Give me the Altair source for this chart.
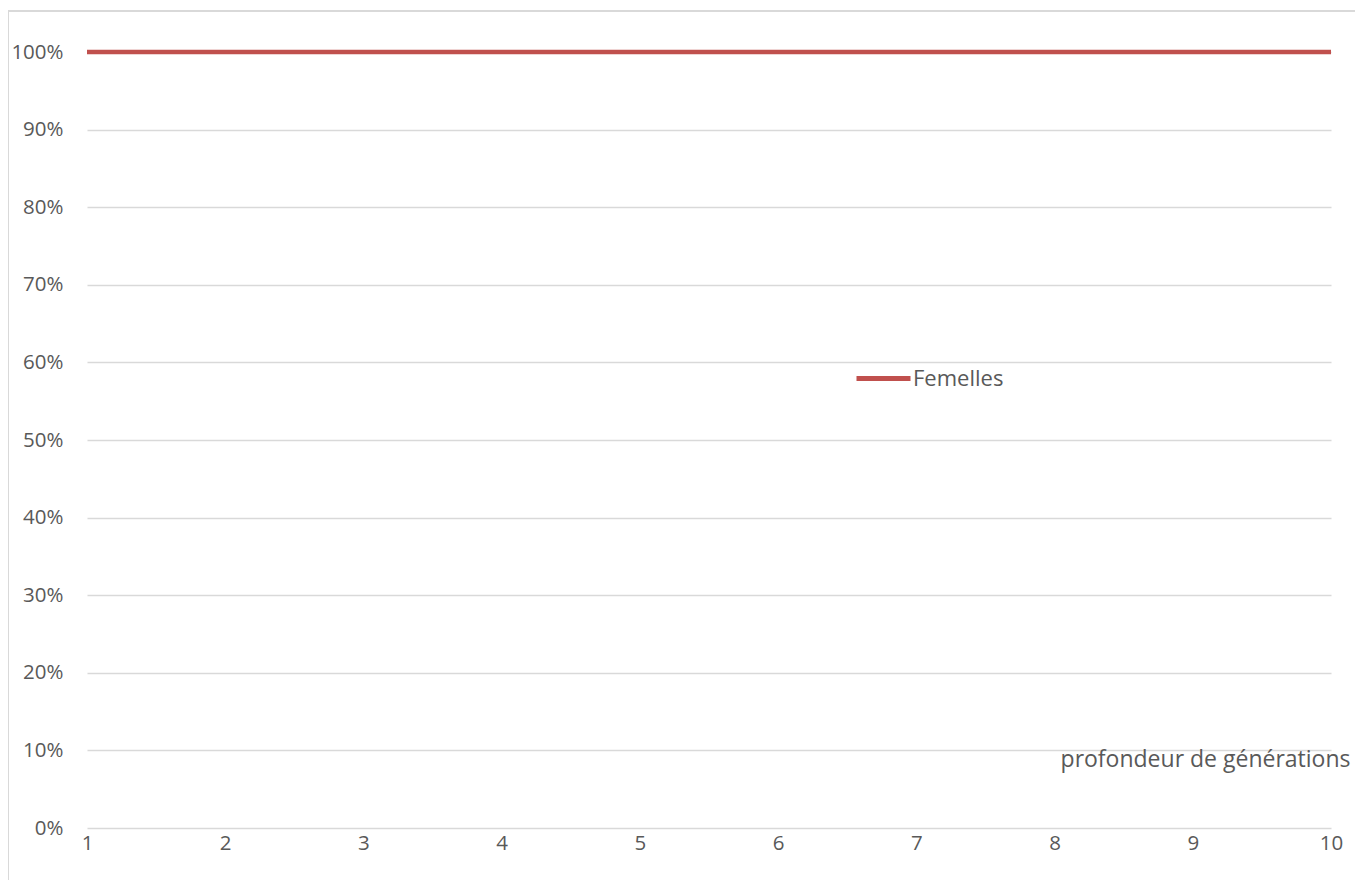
import altair as alt
import pandas as pd

generations = [1, 2, 3, 4, 5, 6, 7, 8, 9, 10]
femelles = [1.0, 1.0, 1.0, 1.0, 1.0, 1.0, 1.0, 1.0, 1.0, 1.0]
series_name = "Femelles"
y_ticks = [0, 0.1, 0.2, 0.3, 0.4, 0.5, 0.6, 0.7, 0.8, 0.9, 1.0]

df = pd.DataFrame({"gen": generations, "val": femelles, "serie": [series_name] * len(generations)})

W, H = 1244, 776
TEXT = "#595959"
GRID = "#D9D9D9"
FONT = "Open Sans"

line = alt.Chart(df).mark_line(strokeWidth=4.5, strokeCap="butt").encode(
    x=alt.X("gen:Q",
            scale=alt.Scale(domain=[1, 10], nice=False, zero=False),
            axis=alt.Axis(values=generations, grid=False, domain=False, ticks=False,
                          labelFlush=False,
                          labelPadding=5, labelFontSize=20.5, labelColor=TEXT, labelFont=FONT,
                          title="profondeur de générations", titleFont=FONT, titleFontSize=23,
                          titleFontWeight="normal", titleColor=TEXT, titleAlign="right",
                          titleBaseline="middle", titleAnchor=None,
                          titleX=1263, titleY=-69)),
    y=alt.Y("val:Q",
            scale=alt.Scale(domain=[0, 1], nice=False),
            axis=alt.Axis(values=y_ticks, format=".0%", grid=True, gridColor=GRID, gridWidth=1.5,
                          domain=False, ticks=False, labelPadding=24, labelFontSize=20.5,
                          labelColor=TEXT, labelFont=FONT, title=None)),
    color=alt.Color("serie:N",
                    scale=alt.Scale(domain=[series_name], range=["#C0504D"]),
                    legend=alt.Legend(orient="none", legendX=767, legendY=297, title=None,
                                      symbolType="stroke", symbolSize=2916, symbolStrokeWidth=5,
                                      labelFontSize=22, labelColor=TEXT, labelFont=FONT,
                                      labelOffset=0, padding=0)),
)

border_df = pd.DataFrame({"k": [0]})
left_border = alt.Chart(border_df).mark_rule(color=GRID, strokeWidth=2).encode(
    x=alt.value(-79), y=alt.value(-41), y2=alt.value(H + 120))
top_border = alt.Chart(border_df).mark_rule(color=GRID, strokeWidth=2).encode(
    x=alt.value(-79), x2=alt.value(W + 40), y=alt.value(-41))

chart = alt.layer(left_border, top_border, line).properties(
    width=W, height=H,
    autosize=alt.AutoSizeParams(type="none"),
    padding={"left": 79, "top": 44, "right": 24, "bottom": 52},
).configure_view(stroke=None)

chart.save("out.html", embed_options={"renderer": "svg", "actions": False})
